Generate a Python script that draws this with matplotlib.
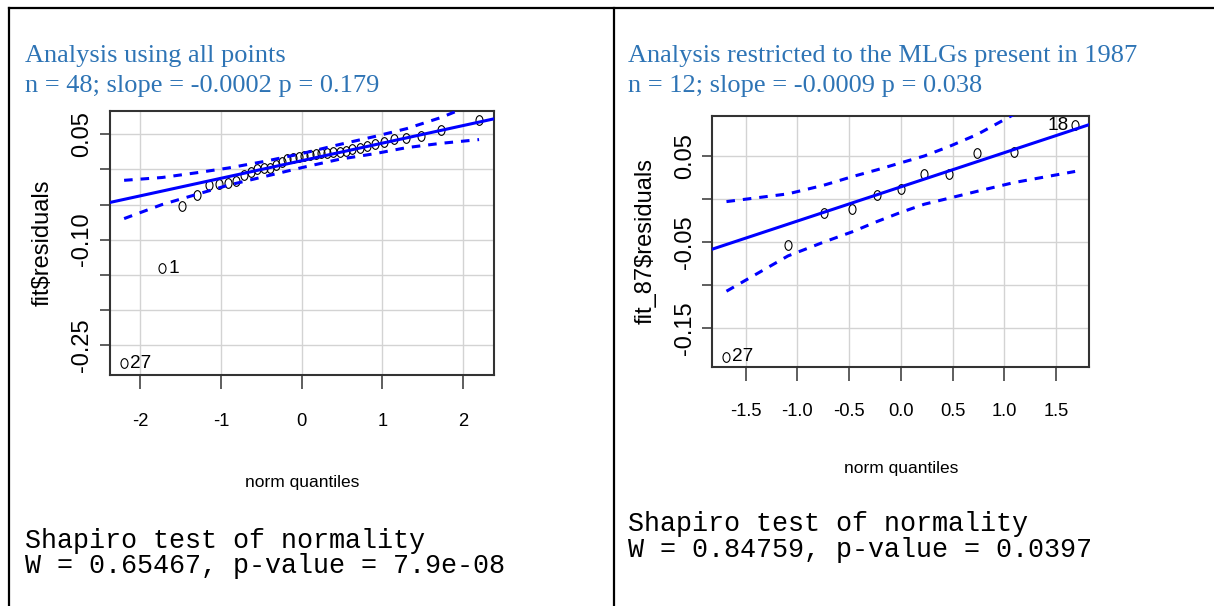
import matplotlib
matplotlib.use("Agg")
import matplotlib.pyplot as plt
from matplotlib import font_manager
from matplotlib.lines import Line2D
from matplotlib.path import Path

W, H = 1214, 606

# ---- left panel: all points ----
all_title = ["Analysis using all points", "n = 48; slope = -0.0002 p = 0.179"]
all_shapiro = ["Shapiro test of normality", "W = 0.65467, p-value = 7.9e-08"]
all_ylabel = "fit$residuals"
all_q = [-2.20, -1.73, -1.48, -1.30, -1.15, -1.02, -0.91, -0.81, -0.72, -0.63,
         -0.55, -0.47, -0.39, -0.32, -0.245, -0.175, -0.105, -0.035,
         0.035, 0.105, 0.175, 0.245, 0.32, 0.39, 0.47, 0.55, 0.63, 0.72,
         0.81, 0.91, 1.02, 1.15, 1.30, 1.48, 1.73, 2.20]
all_res = [-0.276, -0.1406, -0.0517, -0.0365, -0.0222, -0.0213, -0.0200, -0.0165,
           -0.0075, -0.0035, 0.0005, 0.0015, 0.0024, 0.0060, 0.0110, 0.0150,
           0.0165, 0.0175, 0.0185, 0.0205, 0.0225, 0.0235, 0.0240, 0.0248,
           0.0255, 0.0265, 0.0290, 0.0305, 0.0330, 0.0357, 0.0395, 0.0429,
           0.0452, 0.0476, 0.0561, 0.0704]
all_line = (0.0124, 0.02501)  # intercept, slope of the qq line
all_env_q = [-2.2, -1.73, -1.30, -0.91, -0.47, 0.0, 0.47, 0.91, 1.30, 1.73, 2.2]
all_env_hi = [-0.0155, -0.0115, -0.0047, 0.0020, 0.0112, 0.0225, 0.0355, 0.0470,
              0.0580, 0.0740, 0.0960]
all_env_lo = [-0.0700, -0.0500, -0.0355, -0.0225, -0.0104, 0.0025, 0.0145, 0.0225,
              0.0310, 0.0372, 0.0425]
all_marks = [(0, "27", "right"), (1, "1", "right")]
all_xticks = [-2, -1, 0, 1, 2]
all_xtick_labels = ["-2", "-1", "0", "1", "2"]
all_yticks = [0.05, 0.0, -0.05, -0.10, -0.15, -0.20, -0.25]
all_ytick_labels = ["0.05", "", "", "-0.10", "", "", "-0.25"]

# ---- right panel: MLGs present in 1987 ----
r87_title = ["Analysis restricted to the MLGs present in 1987",
             "n = 12; slope = -0.0009 p = 0.038"]
r87_shapiro = ["Shapiro test of normality", "W = 0.84759, p-value = 0.0397"]
r87_ylabel = "fit_87$residuals"
r87_q = [-1.685, -1.09, -0.745, -0.468, -0.227, 0.0, 0.228, 0.468, 0.74, 1.09, 1.685]
r87_res = [-0.1829, -0.0530, -0.0163, -0.0112, 0.0051, 0.0113, 0.0290, 0.0292,
           0.0535, 0.0547, 0.0857]
r87_line = (0.0141, 0.03967)
r87_env_q = [-1.685, -1.09, -0.745, -0.468, -0.227, 0.0, 0.228, 0.468, 0.74, 1.09, 1.685]
r87_env_hi = [-0.0030, 0.0060, 0.0160, 0.0260, 0.0340, 0.0420, 0.0500, 0.0610,
              0.0750, 0.0980, 0.1400]
r87_env_lo = [-0.1070, -0.0660, -0.0500, -0.0380, -0.0260, -0.0155, -0.0060,
              0.0010, 0.0090, 0.0190, 0.0320]
r87_marks = [(0, "27", "right"), (10, "18", "left")]
r87_xticks = [-1.5, -1.0, -0.5, 0.0, 0.5, 1.0, 1.5]
r87_xtick_labels = ["-1.5", "-1.0", "-0.5", "0.0", "0.5", "1.0", "1.5"]
r87_yticks = [0.05, 0.0, -0.05, -0.10, -0.15]
r87_ytick_labels = ["0.05", "", "-0.05", "", "-0.15"]

BLUE = "#0000FF"
TITLE_BLUE = "#2E74B5"
_names = {f.name for f in font_manager.fontManager.ttflist}
NARROW = "Liberation Sans Narrow" if "Liberation Sans Narrow" in _names else "Liberation Sans"
TICK_SIZE = 14.5 if NARROW == "Liberation Sans Narrow" else 13.2
XLAB_SIZE = 14.5 if NARROW == "Liberation Sans Narrow" else 12.5

_circ = Path.unit_circle()
ELLIPSE = Path(_circ.vertices * [0.72, 1.0], _circ.codes)


def fx(x):
    return x / W


def fy(y):
    return 1 - y / H


def draw_panel(ax, q, res, line, env_q, env_hi, env_lo, marks, xticks, xtl,
               yticks, ytl, xlim, ylim, ylabel, xpad, ylab_x, xlab_y):
    ax.set_xlim(*xlim)
    ax.set_ylim(*ylim)
    ax.set_xticks(xticks, xtl, fontfamily=NARROW, fontsize=TICK_SIZE)
    ax.set_yticks(yticks, ytl, rotation=90, va="center",
                  fontfamily="Liberation Sans", fontsize=17)
    ax.tick_params(axis="x", length=10.3, width=1.1, pad=xpad, color="#333333")
    ax.tick_params(axis="y", length=7.5, width=1.1, pad=4.5, color="#333333")
    ax.grid(True, color="#D3D3D3", linewidth=1.0)
    ax.set_axisbelow(True)
    for s in ax.spines.values():
        s.set_color("#333333")
        s.set_linewidth(1.5)

    ax.plot(q, res, linestyle="none", marker=ELLIPSE, markersize=7.0,
            markerfacecolor="none", markeredgecolor="black", markeredgewidth=0.8,
            zorder=3)
    ax.axline((0, line[0]), slope=line[1], color=BLUE, linewidth=2.2, zorder=4)
    for env in (env_hi, env_lo):
        ax.plot(env_q, env, color=BLUE, linewidth=2.2, linestyle=(0, (2.8, 2.6)),
                zorder=4)

    for i, txt, side in marks:
        off = 6 if side == "right" else -6
        ax.annotate(txt, (q[i], res[i]), xytext=(off, 0), textcoords="offset pixels",
                    ha="left" if side == "right" else "right", va="center",
                    fontfamily=NARROW, fontsize=TICK_SIZE + 0.5, zorder=5)

    ax.set_xlabel("norm quantiles", fontfamily=NARROW, fontsize=XLAB_SIZE)
    ax.xaxis.set_label_coords(0.5, xlab_y)
    ax.set_ylabel(ylabel, fontfamily="Liberation Sans", fontsize=17)
    ax.yaxis.set_label_coords(ylab_x, 0.5)


fig = plt.figure(figsize=(W / 100, H / 100), dpi=100)

# table borders
for xs, ys in [([9, W], [7.5, 7.5]), ([9, 9], [7.5, H]), ([613.5, 613.5], [7.5, H])]:
    fig.add_artist(Line2D([fx(v) for v in xs], [fy(v) for v in ys],
                          transform=fig.transFigure, color="black", linewidth=1.6))

ax1 = fig.add_axes([fx(110), fy(375), 384 / W, 264 / H])
draw_panel(ax1, all_q, all_res, all_line, all_env_q, all_env_hi, all_env_lo,
           all_marks, all_xticks, all_xtick_labels, all_yticks, all_ytick_labels,
           (-2.375, 2.385), (-0.2927, 0.0832), all_ylabel, 17.0, -0.148, -0.378)

ax2 = fig.add_axes([fx(712.3), fy(366.7), 377 / W, 251 / H])
draw_panel(ax2, r87_q, r87_res, r87_line, r87_env_q, r87_env_hi, r87_env_lo,
           r87_marks, r87_xticks, r87_xtick_labels, r87_yticks, r87_ytick_labels,
           (-1.822, 1.822), (-0.1946, 0.0967), r87_ylabel, 15.5, -0.148, -0.376)

for x0, lines, shapiro, sy in [(25, all_title, all_shapiro, (547.7, 573.0)),
                                (628.5, r87_title, r87_shapiro, (530.7, 557.3))]:
    for line, y in zip(lines, (62, 92)):
        fig.text(fx(x0), fy(y), line, ha="left", va="baseline",
                 fontfamily="Liberation Serif", fontsize=19, color=TITLE_BLUE)
    for line, y in zip(shapiro, sy):
        fig.text(fx(x0), fy(y), line, ha="left", va="baseline",
                 fontfamily="Liberation Mono", fontsize=19.3, color="black")

fig.savefig("out.png", dpi=100, facecolor="white")
